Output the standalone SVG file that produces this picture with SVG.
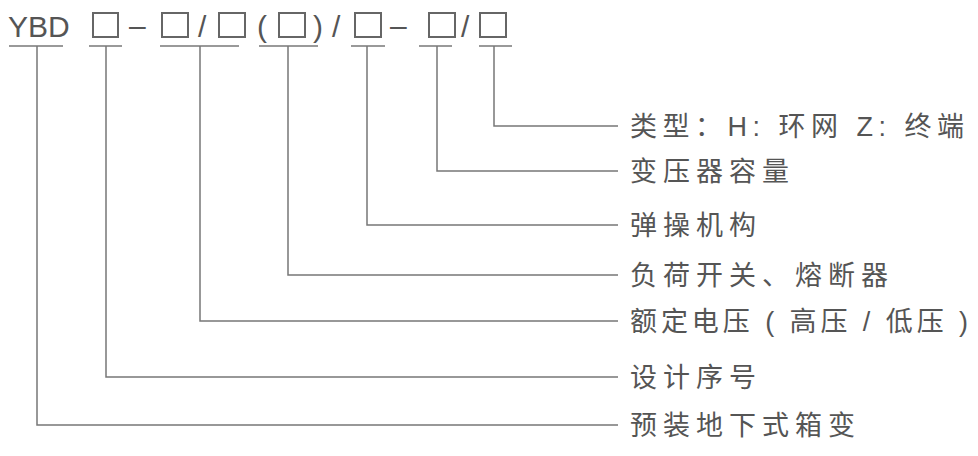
<svg xmlns="http://www.w3.org/2000/svg" width="978" height="456" viewBox="0 0 978 456">
<style>
.t{font-family:"Liberation Sans","Noto Sans CJK SC",sans-serif;fill:#555;}
.h{font-size:30px}
.l{font-size:27px;letter-spacing:6px}
.m{font-size:27px}
.b{fill:none;stroke:#666;stroke-width:2}
#conn line,#conn polyline{stroke:#777;stroke-width:1.5;fill:none}
</style>
<rect width="978" height="456" fill="#fff"/>
<g id="code">
<text class="t h" x="8" y="37">YBD</text>
<rect class="b" x="93" y="13" width="25" height="24"/>
<text class="t h" x="129" y="36">–</text>
<rect class="b" x="162" y="13" width="26" height="24"/>
<text class="t h" x="198" y="37">/</text>
<rect class="b" x="219" y="13" width="26" height="24"/>
<text class="t h" x="257" y="37">(</text>
<rect class="b" x="279" y="13" width="26" height="24"/>
<text class="t h" x="313" y="37">)</text>
<text class="t h" x="332" y="37">/</text>
<rect class="b" x="355" y="13" width="26" height="24"/>
<text class="t h" x="390" y="36">–</text>
<rect class="b" x="429" y="13" width="26" height="24"/>
<text class="t h" x="461" y="37">/</text>
<rect class="b" x="480" y="13" width="26" height="24"/>
</g>
<g id="conn">
<line x1="9" y1="46" x2="63" y2="46"/>
<line x1="89" y1="46" x2="122" y2="46"/>
<line x1="160" y1="46" x2="239" y2="46"/>
<line x1="259" y1="46" x2="318" y2="46"/>
<line x1="351" y1="46" x2="385" y2="46"/>
<line x1="419" y1="46" x2="452" y2="46"/>
<line x1="479" y1="46" x2="512" y2="46"/>
<polyline points="494,46 494,126 618,126"/>
<polyline points="437,46 437,171 618,171"/>
<polyline points="367,46 367,225 618,225"/>
<polyline points="288,46 288,275 618,275"/>
<polyline points="200,46 200,321 618,321"/>
<polyline points="106,46 106,377 618,377"/>
<polyline points="37,46 37,425 618,425"/>
</g>
<g id="n1"><text class="t m" x="630" y="136" textLength="334" lengthAdjust="spacing">类型：H: 环网   Z: 终端</text></g>
<g id="n2"><text class="t l" x="630" y="181">变压器容量</text></g>
<g id="n3"><text class="t l" x="630" y="235">弹操机构</text></g>
<g id="n4"><text class="t l" x="630" y="285">负荷开关、熔断器</text></g>
<g id="n5"><text class="t m" x="630" y="331" textLength="338" lengthAdjust="spacing">额定电压 ( 高压 / 低压 )</text></g>
<g id="n6"><text class="t l" x="630" y="387">设计序号</text></g>
<g id="n7"><text class="t l" x="630" y="435">预装地下式箱变</text></g>
</svg>
